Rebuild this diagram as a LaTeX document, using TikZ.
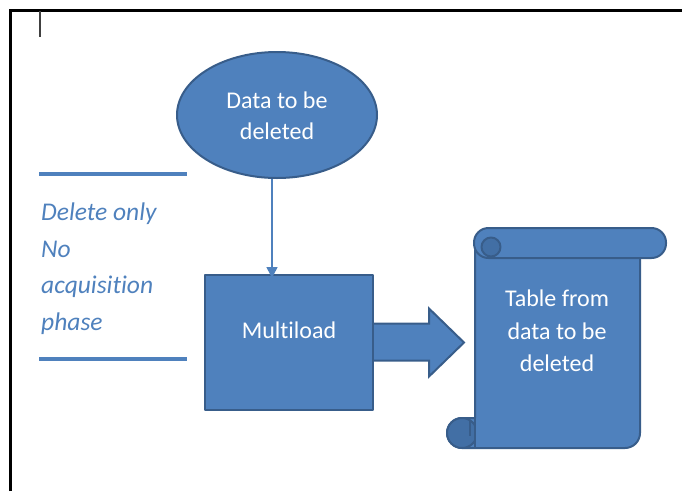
\documentclass[tikz,border=0pt]{standalone}
\usepackage{fontspec}
\setmainfont{Carlito}[Ligatures=NoCommon]
\usetikzlibrary{shapes.geometric,arrows.meta,calc}
\definecolor{fillblue}{HTML}{4F81BD}
\definecolor{edgeblue}{HTML}{385D8A}
\definecolor{curlblue}{HTML}{426FA5}
\definecolor{noteblue}{HTML}{4F81BD}
\begin{document}
\begin{tikzpicture}[x=1pt,y=-1pt,
  shapefill/.style={fill=fillblue,draw=edgeblue,line width=2pt,line join=round},
  whitetext/.style={text=white,font=\fontsize{24}{31}\selectfont,align=center,inner sep=0pt},
  notetext/.style={text=noteblue,font=\fontsize{25.5}{36.5}\selectfont\itshape,align=left,inner sep=0pt},
  rule/.style={draw=noteblue,line width=4pt},
  conn/.style={draw=fillblue,line width=1.5pt,-{Triangle[length=11pt,width=11pt]}}]
\useasboundingbox (0,0) rectangle (682,491);
% frame
\draw[line width=3pt,line join=miter] (10,491) -- (10,10) -- (682,10);
\draw[line width=2pt,black!75] (40,11) -- (40,37);
% ellipse
\node[ellipse,shapefill,minimum width=200pt,minimum height=126pt,inner sep=0pt] (ell) at (277,115) {};
\node[whitetext] (elltext) at ([yshift=-1pt]ell.center) {Data to be\\deleted};
% box
\node[rectangle,shapefill,minimum width=168pt,minimum height=135pt,inner sep=0pt] (box) at (289,342.5) {};
\node[whitetext] (boxtext) at (289,330) {Multiload};
% vertical connector
\draw[conn] ([xshift=-5pt]ell.south) -- ([xshift=-5pt,yshift=-4pt]ell.south |- box.north);
% block arrow
\draw[shapefill,line join=miter] ($(box.east)+(0,-19)$) -- ++(55,0) -- ++(0,-15)
  -- ($(box.east)+(90,0)$) -- ($(box.east)+(55,34)$) -- ++(0,-16) -- ($(box.east)+(0,18)$);
% scroll body
\draw[shapefill] (475,250) -- (475,418) -- (462,418)
  arc[start angle=270,end angle=90,radius=15] -- (625,448)
  arc[start angle=90,end angle=0,radius=15] -- (640,250) -- cycle;
\draw[shapefill,fill=curlblue] (462,433) circle[radius=15];
\draw[edgeblue,line width=1.5pt] (470,421) -- (470,436);
\draw[draw=none,fill=fillblue] (476,420) rectangle (500,446.5);
\draw[edgeblue,line width=2pt] (475,418) -- (475,447);
% top roll
\draw[shapefill,rounded corners=14.5pt] (474,228) rectangle (666,258);
\draw[shapefill,fill=curlblue] (491,247) circle[radius=9.5];
\node[whitetext,font=\fontsize{24}{32.5}\selectfont] (scrolltext) at (557,331) {Table from\\data to be\\deleted};
% side note
\draw[rule] (39,174) -- (187,174);
\draw[rule] (39,359) -- (187,359);
\node[notetext,anchor=base west] (note) at (41,330) {Delete only\\No\\acquisition\\phase};
\end{tikzpicture}
\end{document}
